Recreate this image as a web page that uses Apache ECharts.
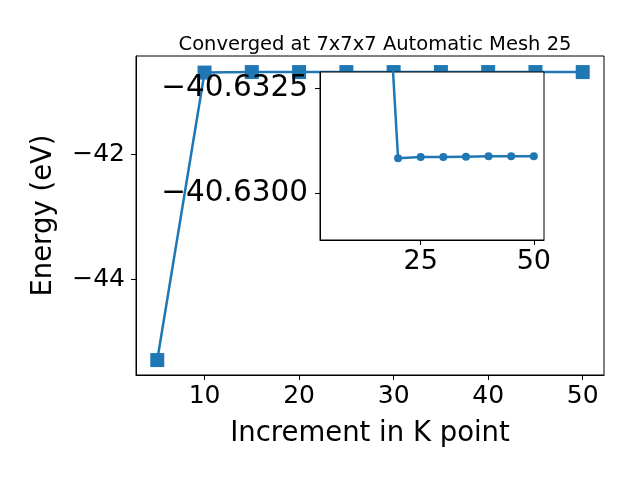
<!DOCTYPE html>
<html>
<head>
<meta charset="utf-8">
<script src="https://cdn.jsdelivr.net/npm/echarts@6/dist/echarts.min.js"></script>
<style>html,body{margin:0;padding:0;background:#fff}#c{width:640px;height:480px}</style>
</head>
<body>
<div id="c"></div>
<script>
// Main panel data
var kPoints = [5, 10, 15, 20, 25, 30, 35, 40, 45, 50];
var energyMain = [-45.30, -40.683, -40.675, -40.675, -40.675, -40.675, -40.675, -40.675, -40.675, -40.675];
// Inset data
var insetK = [15, 20, 25, 30, 35, 40, 45, 50];
var energyInset = [-40.6401, -40.63083, -40.63086, -40.63086, -40.63087, -40.63088, -40.63088, -40.63088];
// Tick labels
var mainXTicks = [10, 20, 30, 40, 50];
var mainYTicks = [-42, -44];
var insetXTicks = [25, 50];
var insetYTicks = [-40.6325, -40.6300];
var titleText = 'Converged at 7x7x7 Automatic Mesh 25';
var xLabel = 'Increment in K point';
var yLabel = 'Energy (eV)';

var FONT = 'DejaVu Sans';
var BLUE = '#1f77b4';
function minus(s){ return String(s).replace('-', '\u2212'); }
function pairs(xs, ys){ return xs.map(function(x,i){ return [x, ys[i]]; }); }

var chart = echarts.init(document.getElementById('c'), null, {renderer:'canvas'});
chart.setOption({
  animation: false,
  backgroundColor: '#fff',
  title: {
    text: titleText, left: 370, top: 30, textAlign: 'center',
    textStyle: {fontFamily: FONT, fontSize: 19.5, fontWeight: 'normal', color: '#000'}
  },
  grid: [
    {left: 136, right: 36, top: 56, bottom: 105, show: true, borderColor: '#000', borderWidth: 1, backgroundColor: 'transparent'},
    {left: 320, width: 224, top: 72, height: 168, show: true, borderColor: '#000', borderWidth: 1, backgroundColor: '#fff', zlevel: 1}
  ],
  xAxis: [
    {gridIndex: 0, type: 'value', min: 2.75, max: 52.25,
     name: xLabel, nameLocation: 'middle', nameGap: 45,
     nameTextStyle: {fontFamily: FONT, fontSize: 27.5, color: '#000'},
     axisLine: {lineStyle: {color: '#000'}},
     axisTick: {show: true, length: 5, lineStyle: {color: '#000'}, customValues: mainXTicks},
     axisLabel: {fontFamily: FONT, fontSize: 25, color: '#000', margin: 9, customValues: mainXTicks},
     splitLine: {show: false}},
    {gridIndex: 1, type: 'value', min: 2.75, max: 52.25, zlevel: 1,
     axisLine: {lineStyle: {color: '#000'}},
     axisTick: {show: true, length: 5, lineStyle: {color: '#000'}, customValues: insetXTicks},
     axisLabel: {fontFamily: FONT, fontSize: 27, color: '#000', margin: 8, customValues: insetXTicks},
     splitLine: {show: false}}
  ],
  yAxis: [
    {gridIndex: 0, type: 'value', min: -45.54, max: -40.417,
     name: yLabel, nameLocation: 'middle', nameGap: 78, nameRotate: 90,
     nameTextStyle: {fontFamily: FONT, fontSize: 27.5, color: '#000'},
     axisLine: {show: true, lineStyle: {color: '#000'}},
     axisTick: {show: true, length: 5, lineStyle: {color: '#000'}, customValues: mainYTicks},
     axisLabel: {fontFamily: FONT, fontSize: 25, color: '#000', margin: 11, customValues: mainYTicks,
       formatter: function(v){ return minus(v); }},
     splitLine: {show: false}},
    {gridIndex: 1, type: 'value', min: -40.63288, max: -40.62889, inverse: true, zlevel: 1,
     axisLine: {show: true, lineStyle: {color: '#000'}},
     axisTick: {show: true, length: 5, lineStyle: {color: '#000'}, customValues: insetYTicks},
     axisLabel: {fontFamily: FONT, fontSize: 29.5, color: '#000', margin: 12, customValues: insetYTicks,
       formatter: function(v){ return minus(v.toFixed(4)); }},
     splitLine: {show: false}}
  ],
  series: [
    {type: 'line', xAxisIndex: 0, yAxisIndex: 0, data: pairs(kPoints, energyMain),
     symbol: 'rect', symbolSize: 14, showAllSymbol: true,
     lineStyle: {color: BLUE, width: 2.5}, itemStyle: {color: BLUE}},
    {type: 'line', xAxisIndex: 1, yAxisIndex: 1, data: pairs(insetK, energyInset), zlevel: 1,
     clip: true, symbol: 'circle', symbolSize: 8, showAllSymbol: true,
     lineStyle: {color: BLUE, width: 2.5}, itemStyle: {color: BLUE}}
  ]
});
</script>
</body>
</html>
